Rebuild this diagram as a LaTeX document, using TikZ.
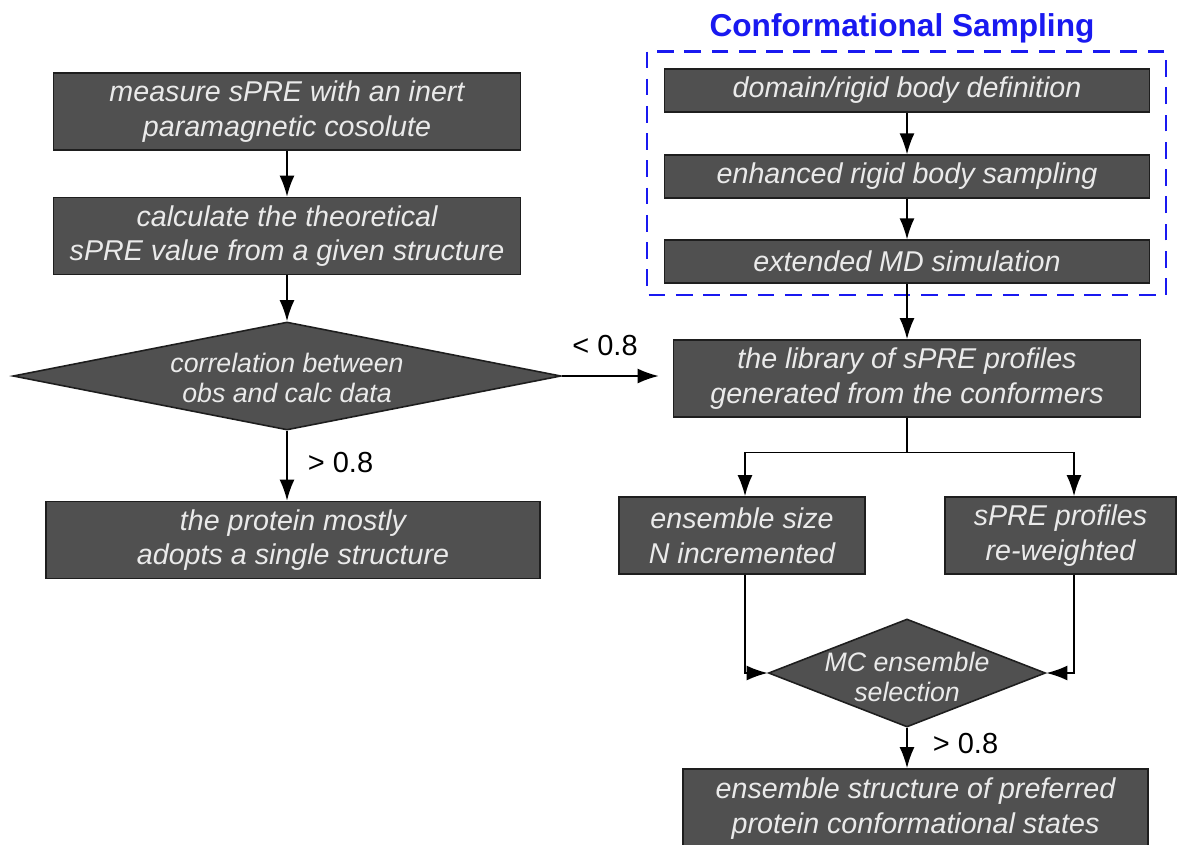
\documentclass[tikz,border=0pt]{standalone}
\usepackage{fontspec}
\usepackage{tikz}
\usetikzlibrary{arrows.meta,shapes.geometric,positioning}
\newfontfamily\flowfont{Liberation Sans}
\definecolor{boxfill}{RGB}{80,80,80}
\definecolor{boxedge}{RGB}{30,30,30}
\definecolor{boxtext}{RGB}{234,234,234}
\definecolor{frameblue}{RGB}{25,25,240}

\begin{document}
\begin{tikzpicture}[->,>={Latex[length=12pt,width=8.5pt]},line width=1pt,
  stepbox/.style={rectangle,draw=boxedge,fill=boxfill,text=boxtext,line width=0.9pt,
    inner sep=0pt,align=center,minimum height=1.54cm,
    font=\flowfont\itshape\fontsize{16.3}{19.8}\selectfont},
  thinbox/.style={stepbox,minimum width=9.7cm,minimum height=0.85cm},
  decision/.style={diamond,draw=boxedge,fill=boxfill,line width=0.9pt,inner sep=0pt,
    minimum height=2.16cm},
  dtext/.style={text=boxtext,align=center,inner sep=0pt,
    font=\flowfont\itshape\fontsize{15.2}{16.8}\selectfont},
  cut/.style={font=\flowfont\fontsize{16.5}{19}\selectfont,inner sep=0pt}]

\useasboundingbox (0,0) rectangle (23.62,-16.88);

% left column
\node[stepbox,minimum width=9.34cm] (measure) at (5.74,-2.23) {measure sPRE with an inert\\paramagnetic cosolute};
\node[stepbox,minimum width=9.34cm] (calc) at (5.74,-4.72) {calculate the theoretical\\sPRE value from a given structure};
\node[decision,minimum width=10.96cm] (corr) at (5.74,-7.52) {};
\node[dtext] (corrtext) at (5.74,-7.56) {correlation between\\obs and calc data};
\node[stepbox,minimum width=9.88cm] (single) at (5.86,-10.80) {the protein mostly\\adopts a single structure};

% conformational sampling
\node[font=\flowfont\bfseries\fontsize{18}{21}\selectfont,text=frameblue,inner sep=0pt] (title) at (18.04,-0.56) {Conformational Sampling};
\node[thinbox] (domain) at (18.14,-1.81) {domain/rigid body definition};
\node[thinbox] (sampling) at (18.14,-3.53) {enhanced rigid body sampling};
\node[thinbox] (md) at (18.14,-5.23) {extended MD simulation};
\draw[-,frameblue,line width=1.5pt,dash pattern=on 9.5pt off 6pt] (12.94,-1.03) rectangle (23.32,-5.90);

% ensemble part
\node[stepbox,minimum width=9.34cm] (library) at (18.14,-7.57) {the library of sPRE profiles\\generated from the conformers};
\node[stepbox,minimum width=4.92cm] (ensize) at (14.84,-10.71) {ensemble size\\N incremented};
\node[stepbox,minimum width=4.62cm] (reweight) at (21.21,-10.71) {sPRE profiles\\re-weighted};
\node[decision,minimum width=5.54cm] (mc) at (18.14,-13.46) {};
\node[dtext] (mctext) at (18.14,-13.54) {MC ensemble\\selection};
\node[stepbox,minimum width=9.30cm,minimum height=1.58cm] (final) at (18.31,-16.17) {ensemble structure of preferred\\protein conformational states};

\coordinate (splitL) at (14.90,-9.05);
\coordinate (splitR) at (21.48,-9.05);

\path (measure) edge (calc)
      (calc) edge (corr)
      (domain) edge (sampling)
      (sampling) edge (md)
      (md) edge (library);

\draw (corr.south) -- node[cut,right=0.4cm,pos=0.45] (gtleft) {> 0.8} (corr.south |- single.north);
\draw[shorten >=0.28cm] (corr.east) -- node[cut,above=0.38cm,pos=0.39] (ltmid) {< 0.8} (corr.east -| library.west);

\draw[-] (library.south) -- (library.south |- splitL);
\draw (library.south |- splitL) -- (splitL) -- (splitL |- ensize.north);
\draw (library.south |- splitL) -- (splitR) -- (splitR |- reweight.north);
\draw (splitL |- ensize.south) |- (mc.west);
\draw (splitR |- reweight.south) |- (mc.east);
\draw (mc.south) -- node[cut,right=0.5cm,pos=0.38] (gtright) {> 0.8} (mc.south |- final.north);

\end{tikzpicture}
\end{document}
